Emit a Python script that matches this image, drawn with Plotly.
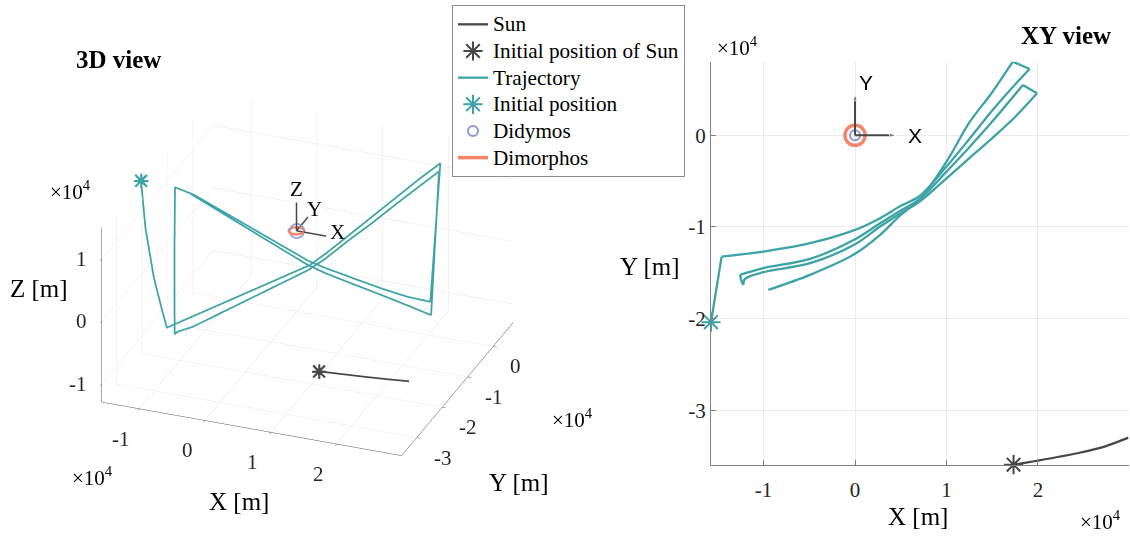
import plotly.graph_objects as go

# ---------------- data (metres) ----------------
# Sun apparent path
sun_x = [17330, 20000, 24300, 27200, 29900]
sun_y = [-35950, -35500, -34700, -34000, -33000]
sun_z = [-1770, -1850, -2000, -2150, -2430]

# Spacecraft trajectory (body-fixed frame)
traj_x = [-15750, -15550, -15180, -14820, -14590,
          -10030, -4920, 0, 2740, 5000, 7110, 10000, 12500, 15000, 17000, 19080,
          17250,
          15000, 12500, 10000, 7110, 5000, 2740, 0, -4920, -10030, -12580,
          -12450, -12220,
          -12030, -10030, -4920, 0, 2740, 5000, 7110, 10000, 12500, 15000, 17500, 19900,
          18350,
          15000, 12500, 10000, 7110, 5000, 2740, 0, -4920, -9480]
traj_y = [-20400, -19200, -16890, -14640, -13240,
          -12690, -11780, -10330, -9050, -7700, -6600, -3420, -400, 2700, 5000, 7230,
          8030,
          4700, 1400, -2880, -6900, -8200, -9600, -11350, -13490, -14500, -15230,
          -15800, -16330,
          -15670, -14940, -13960, -11900, -9960, -8500, -7200, -4690, -2500, -300, 2000, 4580,
          5490,
          1500, -1300, -3970, -7000, -8700, -10870, -12940, -15230, -16870]
traj_z = [14960, 6920, -2020, -8210, -11810,
          -9020, -5990, -3250, -1860, -820, 980, 3430, 5510, 7580, 9270, 10870,
          -12020,
          -10000, -7600, -4410, -1280, 100, 2050, 4460, 8070, 10930, 11990,
          2000, -10900,
          -10800, -10000, -6680, -3810, -2430, -1250, 320, 2830, 4830, 7020, 9100, 11010,
          -12700,
          -9290, -6920, -4660, -2050, -250, 2350, 5100, 9000, 12260]
# index ranges of the long transfer arcs (the remaining pieces are short manoeuvres)
arc_spans = [(4, 15), (16, 26), (28, 40), (41, 50)]
hop_spans = [(0, 4), (15, 16), (26, 28), (40, 41)]

# Dimorphos orbit around Didymos
dimo_x = [1100, 1016, 778, 421, 0, -421, -778, -1016, -1100, -1016, -778, -421, 0, 421, 778, 1016, 1100]
dimo_y = [0, 421, 778, 1016, 1100, 1016, 778, 421, 0, -421, -778, -1016, -1100, -1016, -778, -421, 0]
dimo_z = [0] * 17

# Body frame axes drawn at the origin
triad_len = 4500

# Tick values / labels (x 10^4 m)
x_ticks = [-10000, 0, 10000, 20000]
x_labels = ['-1', '0', '1', '2']
y_ticks = [-30000, -20000, -10000, 0]
y_labels = ['-3', '-2', '-1', '0']
z_ticks = [-10000, 0, 10000]
z_labels = ['-1', '0', '1']

x_range = [-15750, 29900]
y_range = [-35950, 8030]
z_range = [-12890, 14960]

# ---------------- styles ----------------
TEAL = '#3DA3A6'
SUNC = '#474747'
DIDY = '#8E9ACB'
DIMO = '#F4846C'
AXC = '#808080'
GRID = '#E6E6E6'
TXT = '#262626'
SERIF = 'Liberation Serif'
SANS = 'Liberation Sans'
W, H = 1130, 541


def entry(name):
    # legend text drawn a little larger than the row pitch implied by the legend font
    return '<span style="font-size:21.2px">%s</span>' % name


fig = go.Figure()

# ---------------- XY view (carries the legend) ----------------
fig.add_trace(go.Scatter(x=sun_x, y=sun_y, mode='lines', name=entry('Sun'),
                         line=dict(color=SUNC, width=2.3, shape='spline', smoothing=0.8), cliponaxis=False))
fig.add_trace(go.Scatter(x=[sun_x[0]], y=[sun_y[0]], mode='markers', name=entry('Initial position of Sun'),
                         marker=dict(symbol='asterisk-open', size=16, color=SUNC,
                                     line=dict(color=SUNC, width=2)),
                         cliponaxis=False))
first = True
for a, b in sorted(arc_spans + hop_spans):
    smooth = (a, b) in arc_spans
    fig.add_trace(go.Scatter(x=traj_x[a:b + 1], y=traj_y[a:b + 1], mode='lines', name=entry('Trajectory'),
                             showlegend=first,
                             line=dict(color=TEAL, width=2.3, shape='spline' if smooth else 'linear',
                                       smoothing=0.9),
                             cliponaxis=False))
    first = False
fig.add_trace(go.Scatter(x=[traj_x[0]], y=[traj_y[0]], mode='markers', name=entry('Initial position'),
                         marker=dict(symbol='asterisk-open', size=16, color=TEAL,
                                     line=dict(color=TEAL, width=2)),
                         cliponaxis=False))
fig.add_trace(go.Scatter(x=[0], y=[0], mode='markers', name=entry('Didymos'),
                         marker=dict(symbol='circle-open', size=10, color=DIDY,
                                     line=dict(color=DIDY, width=2))))
fig.add_trace(go.Scatter(x=dimo_x, y=dimo_y, mode='lines', name=entry('Dimorphos'),
                         line=dict(color=DIMO, width=3.5, shape='spline')))
fig.add_trace(go.Scatter(x=[0, triad_len], y=[0, 0], mode='lines+markers', showlegend=False,
                         line=dict(color=SUNC, width=2),
                         marker=dict(symbol='arrow', size=[0, 7], angleref='previous', color=SUNC)))
fig.add_trace(go.Scatter(x=[0, 0], y=[0, triad_len], mode='lines+markers', showlegend=False,
                         line=dict(color=SUNC, width=2),
                         marker=dict(symbol='arrow', size=[0, 7], angleref='previous', color=SUNC)))

# ---------------- 3D view ----------------
fig.add_trace(go.Scatter3d(x=sun_x, y=sun_y, z=sun_z, mode='lines', showlegend=False,
                           line=dict(color=SUNC, width=3.5), scene='scene'))
fig.add_trace(go.Scatter3d(x=traj_x, y=traj_y, z=traj_z, mode='lines', showlegend=False,
                           line=dict(color=TEAL, width=3.5), scene='scene'))
fig.add_trace(go.Scatter3d(x=dimo_x, y=dimo_y, z=dimo_z, mode='lines', showlegend=False,
                           line=dict(color=DIMO, width=5), scene='scene'))
fig.add_trace(go.Scatter3d(x=[0], y=[0], z=[0], mode='markers', showlegend=False,
                           marker=dict(symbol='circle-open', size=9, color=DIDY), scene='scene'))
for tx, ty, tz in [([0, triad_len], [0, 0], [0, 0]),
                   ([0, 0], [0, triad_len], [0, 0]),
                   ([0, 0], [0, 0], [0, triad_len])]:
    fig.add_trace(go.Scatter3d(x=tx, y=ty, z=tz, mode='lines', showlegend=False,
                               line=dict(color=SUNC, width=3), scene='scene'))
# asterisk markers built from a plus and a cross glyph
for glyph in ['+', '\u00d7']:
    fig.add_trace(go.Scatter3d(x=[sun_x[0], traj_x[0]], y=[sun_y[0], traj_y[0]], z=[sun_z[0], traj_z[0]],
                               mode='text', text=[glyph, glyph], textposition='middle center',
                               showlegend=False,
                               textfont=dict(family=SANS, size=30, color=[SUNC, TEAL]),
                               scene='scene'))

ax3 = dict(showbackground=False, gridcolor=GRID, gridwidth=1, showline=True, linecolor='#555555',
           linewidth=1, zeroline=False, showspikes=False, ticks='outside', ticklen=4,
           tickcolor='#555555', showticklabels=False, title=dict(text=''))

# orthographic camera; the on-screen size is set through the aspect ratio
zoom = 1.21
eye = dict(x=0.320 * 1.64, y=-0.827 * 1.64, z=0.4615 * 1.64)
aspect = dict(x=1.0 * zoom, y=0.9634 * zoom, z=0.6101 * zoom)

# upright tick labels for the 3D axes
tick_font = dict(family=SERIF, size=21, color=TXT)
scene_ann = []
for v, t in zip(x_ticks, x_labels):
    scene_ann.append(dict(x=v, y=y_range[0], z=z_range[0], text=t, showarrow=False,
                          xanchor='center', yanchor='middle', xshift=-18, yshift=-30, font=tick_font))
for v, t in zip(y_ticks, y_labels):
    scene_ann.append(dict(x=x_range[1], y=v, z=z_range[0], text=t, showarrow=False,
                          xanchor='left', yanchor='middle', xshift=15, yshift=-20, font=tick_font))
for v, t in zip(z_ticks, z_labels):
    scene_ann.append(dict(x=x_range[0], y=y_range[0], z=v, text=t, showarrow=False,
                          xanchor='right', yanchor='middle', xshift=-12, yshift=0, font=tick_font))
tri_font = dict(family=SERIF, size=21, color='black')
scene_ann += [
    dict(x=6250, y=0, z=900, text='X', showarrow=False, font=tri_font),
    dict(x=0, y=7000, z=0, text='Y', showarrow=False, font=tri_font),
    dict(x=0, y=0, z=6600, text='Z', showarrow=False, font=tri_font),
]

fig.update_layout(
    width=W, height=H, margin=dict(l=0, r=0, t=0, b=0),
    paper_bgcolor='white', plot_bgcolor='white',
    font=dict(family=SERIF, color=TXT),
    showlegend=True,
    legend=dict(x=452 / W, y=1 - 5 / H, xanchor='left', yanchor='top',
                font=dict(family=SERIF, size=18.2, color='black'),
                bgcolor='white', bordercolor='#8C8C8C', borderwidth=1, itemwidth=30,
                tracegroupgap=0),
    xaxis=dict(domain=[711 / W, 1128.5 / W], range=x_range, tickvals=x_ticks, ticktext=x_labels,
               showgrid=True, gridcolor='#EBEBEB', zeroline=False, showline=True, linecolor=AXC,
               ticks='inside', ticklen=5, tickcolor=AXC, anchor='y',
               tickfont=dict(family=SERIF, size=21, color=TXT), ticklabelstandoff=6),
    yaxis=dict(domain=[1 - 464.7 / H, 1 - 61.7 / H], range=y_range, tickvals=y_ticks, ticktext=y_labels,
               showgrid=True, gridcolor='#EBEBEB', zeroline=False, showline=True, linecolor=AXC,
               ticks='inside', ticklen=5, tickcolor=AXC, anchor='x',
               tickfont=dict(family=SERIF, size=21, color=TXT)),
    scene=dict(domain=dict(x=[0, 615 / W], y=[0, 0.9838]),
               xaxis=dict(range=x_range, tickvals=x_ticks, **ax3),
               yaxis=dict(range=y_range, tickvals=y_ticks, **ax3),
               zaxis=dict(range=z_range, tickvals=z_ticks, **ax3),
               aspectmode='manual', aspectratio=aspect,
               camera=dict(eye=eye, up=dict(x=0, y=0, z=1), center=dict(x=0, y=0, z=0),
                           projection=dict(type='orthographic')),
               annotations=scene_ann),
)

ann = []
def label(x, y, text, size=25, bold=False, xanchor='center', family=SERIF):
    ann.append(dict(x=x / W, y=1 - y / H, xref='paper', yref='paper', text=('<b>%s</b>' % text) if bold else text,
                    showarrow=False, xanchor=xanchor, yanchor='middle',
                    font=dict(family=family, size=size, color='black')))

label(118, 60, '3D view', bold=True)
label(1066, 36, 'XY view', bold=True)
label(239, 501, 'X [m]')
label(518, 482, 'Y [m]')
label(39, 288, 'Z [m]')
label(92, 477, '\u00d710<sup>4</sup>', size=21)
label(572, 418, '\u00d710<sup>4</sup>', size=21)
label(70, 190, '\u00d710<sup>4</sup>', size=21)
label(649, 266, 'Y [m]')
label(918, 516, 'X [m]')
label(738, 47, '\u00d710<sup>4</sup>', size=21)
label(1078, 520, '\u00d710<sup>4</sup>', size=21, xanchor='left')
ann.append(dict(x=5600, y=0, xref='x', yref='y', text='X', showarrow=False, xanchor='left', yanchor='middle',
                font=dict(family=SANS, size=21, color='black')))
ann.append(dict(x=200, y=5800, xref='x', yref='y', text='Y', showarrow=False, xanchor='left', yanchor='middle',
                font=dict(family=SANS, size=21, color='black')))
fig.update_layout(annotations=ann)

fig.write_html("out.html", post_script="document.body.style.margin='0';")
